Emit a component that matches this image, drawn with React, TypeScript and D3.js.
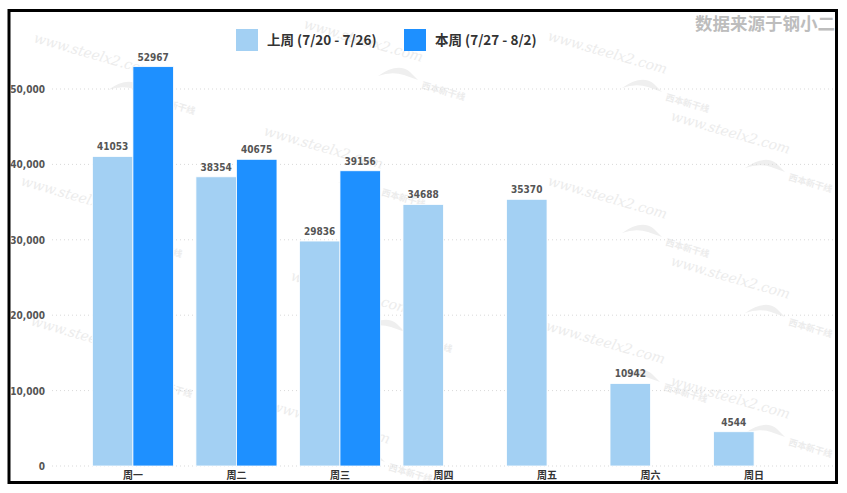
import { useEffect, useRef } from 'react';
import * as d3 from 'd3';

const days = ['周一', '周二', '周三', '周四', '周五', '周六', '周日'];
const lastWeek = [41053, 38354, 29836, 34688, 35370, 10942, 4544];
const thisWeek = [52967, 40675, 39156, null, null, null, null];
const seriesNames = ['上周 (7/20 - 7/26)', '本周 (7/27 - 8/2)'];
const yTicks = [0, 10000, 20000, 30000, 40000, 50000];
const sourceNote = '数据来源于钢小二';

const colors = ['#a3d0f3', '#1e90ff'];
const numFont = '"DejaVu Sans Condensed", "Liberation Sans Narrow", Roboto, sans-serif';
const cjkFont = '"Noto Sans CJK SC", "Noto Sans", sans-serif';

// watermark anchor points (decoration only)
const marks = [
  [33, 32], [303, 18], [263, 125], [547, 30], [670, 110],
  [20, 175], [290, 270], [547, 175], [670, 255], [30, 315],
  [270, 400], [545, 320], [670, 375],
];

const App = () => {
  const ref = useRef<SVGSVGElement>(null);

  const width = 847;
  const height = 493;
  const plot = { left: 52, right: 835, top: 89, bottom: 466 };

  useEffect(() => {
    const svg = d3.select(ref.current);
    svg.selectAll('*').remove();

    const y = d3.scaleLinear().domain([0, 50000]).range([plot.bottom, plot.top]);
    const x = d3.scaleBand<string>().domain(days).range([81, 806]).paddingInner(0.217).paddingOuter(0.11);
    const xs = d3.scaleBand<number>().domain([0, 1]).range([0, x.bandwidth()]);

    // watermarks
    const wm = svg.append('g').attr('pointer-events', 'none');
    marks.forEach(([mx, my]) => {
      wm.append('text')
        .attr('transform', `translate(${mx},${my + 10}) rotate(16)`)
        .style('font', 'italic 14px "DejaVu Serif", serif')
        .style('fill', '#ececec')
        .text('www.steelx2.com');
      wm.append('path')
        .attr('d', `M${mx + 75},${my + 58} q20,-14 32,-4 l8,8 l-14,-5 q-12,-4 -26,1 z`)
        .style('fill', '#efefef');
      wm.append('text')
        .attr('transform', `translate(${mx + 118},${my + 70}) rotate(16)`)
        .style('font', `bold 9px ${cjkFont}`)
        .style('fill', '#ececec')
        .text('西本新干线');
    });

    // grid
    svg.append('g')
      .selectAll('line')
      .data(yTicks)
      .enter()
      .append('line')
      .attr('x1', plot.left)
      .attr('x2', plot.right)
      .attr('y1', (d) => y(d))
      .attr('y2', (d) => y(d))
      .style('stroke', '#d9d9d9')
      .style('stroke-dasharray', '1,3');

    // y tick labels
    svg.append('g')
      .selectAll('text')
      .data(yTicks)
      .enter()
      .append('text')
      .attr('x', 45)
      .attr('y', (d) => y(d) + 4)
      .attr('text-anchor', 'end')
      .style('font', `bold 10px ${numFont}`)
      .style('fill', '#555')
      .text((d) => d3.format(',')(d));

    // bars
    const series = [lastWeek, thisWeek];
    series.forEach((vals, si) => {
      const g = svg.append('g');
      const rows = days
        .map((day, i) => ({ day, v: vals[i] }))
        .filter((d) => d.v != null) as { day: string; v: number }[];
      g.selectAll('rect')
        .data(rows)
        .enter()
        .append('rect')
        .attr('x', (d) => (x(d.day) as number) + (xs(si) as number))
        .attr('y', (d) => y(d.v))
        .attr('width', xs.bandwidth())
        .attr('height', (d) => plot.bottom - y(d.v))
        .style('fill', colors[si])
        .style('stroke', '#fff')
        .style('stroke-width', 0.8);
      g.selectAll('text')
        .data(rows)
        .enter()
        .append('text')
        .attr('x', (d) => (x(d.day) as number) + (xs(si) as number) + xs.bandwidth() / 2)
        .attr('y', (d) => y(d.v) - 6)
        .attr('text-anchor', 'middle')
        .style('font', `bold 10px ${numFont}`)
        .style('fill', '#555')
        .text((d) => d.v);
    });

    // category labels
    svg.append('g')
      .selectAll('text')
      .data(days)
      .enter()
      .append('text')
      .attr('x', (d) => (x(d) as number) + x.bandwidth() / 2)
      .attr('y', 479)
      .attr('text-anchor', 'middle')
      .style('font', `bold 10px ${cjkFont}`)
      .style('fill', '#333')
      .text((d) => d);

    // legend
    const legendX = [236, 404];
    seriesNames.forEach((name, i) => {
      svg.append('rect')
        .attr('x', legendX[i])
        .attr('y', 29)
        .attr('width', 22)
        .attr('height', 22)
        .style('fill', colors[i]);
      svg.append('text')
        .attr('x', legendX[i] + 31)
        .attr('y', 45)
        .style('font', `bold 13.5px ${cjkFont}`)
        .style('fill', '#333')
        .text(name);
    });

    // source note
    svg.append('text')
      .attr('x', 835)
      .attr('y', 30)
      .attr('text-anchor', 'end')
      .style('font', `bold 17.5px ${cjkFont}`)
      .style('fill', '#bdbdbd')
      .text(sourceNote);

    // frame
    svg.append('rect')
      .attr('x', 9)
      .attr('y', 10.5)
      .attr('width', 827.5)
      .attr('height', 472)
      .style('fill', 'none')
      .style('stroke', '#000')
      .style('stroke-width', 3);
  }, []);

  return (
    <div style={{ position: 'absolute', left: 0, top: 0, background: '#fff' }}>
      <svg width={width} height={height} ref={ref} style={{ display: 'block' }} />
    </div>
  );
};

export default App;
